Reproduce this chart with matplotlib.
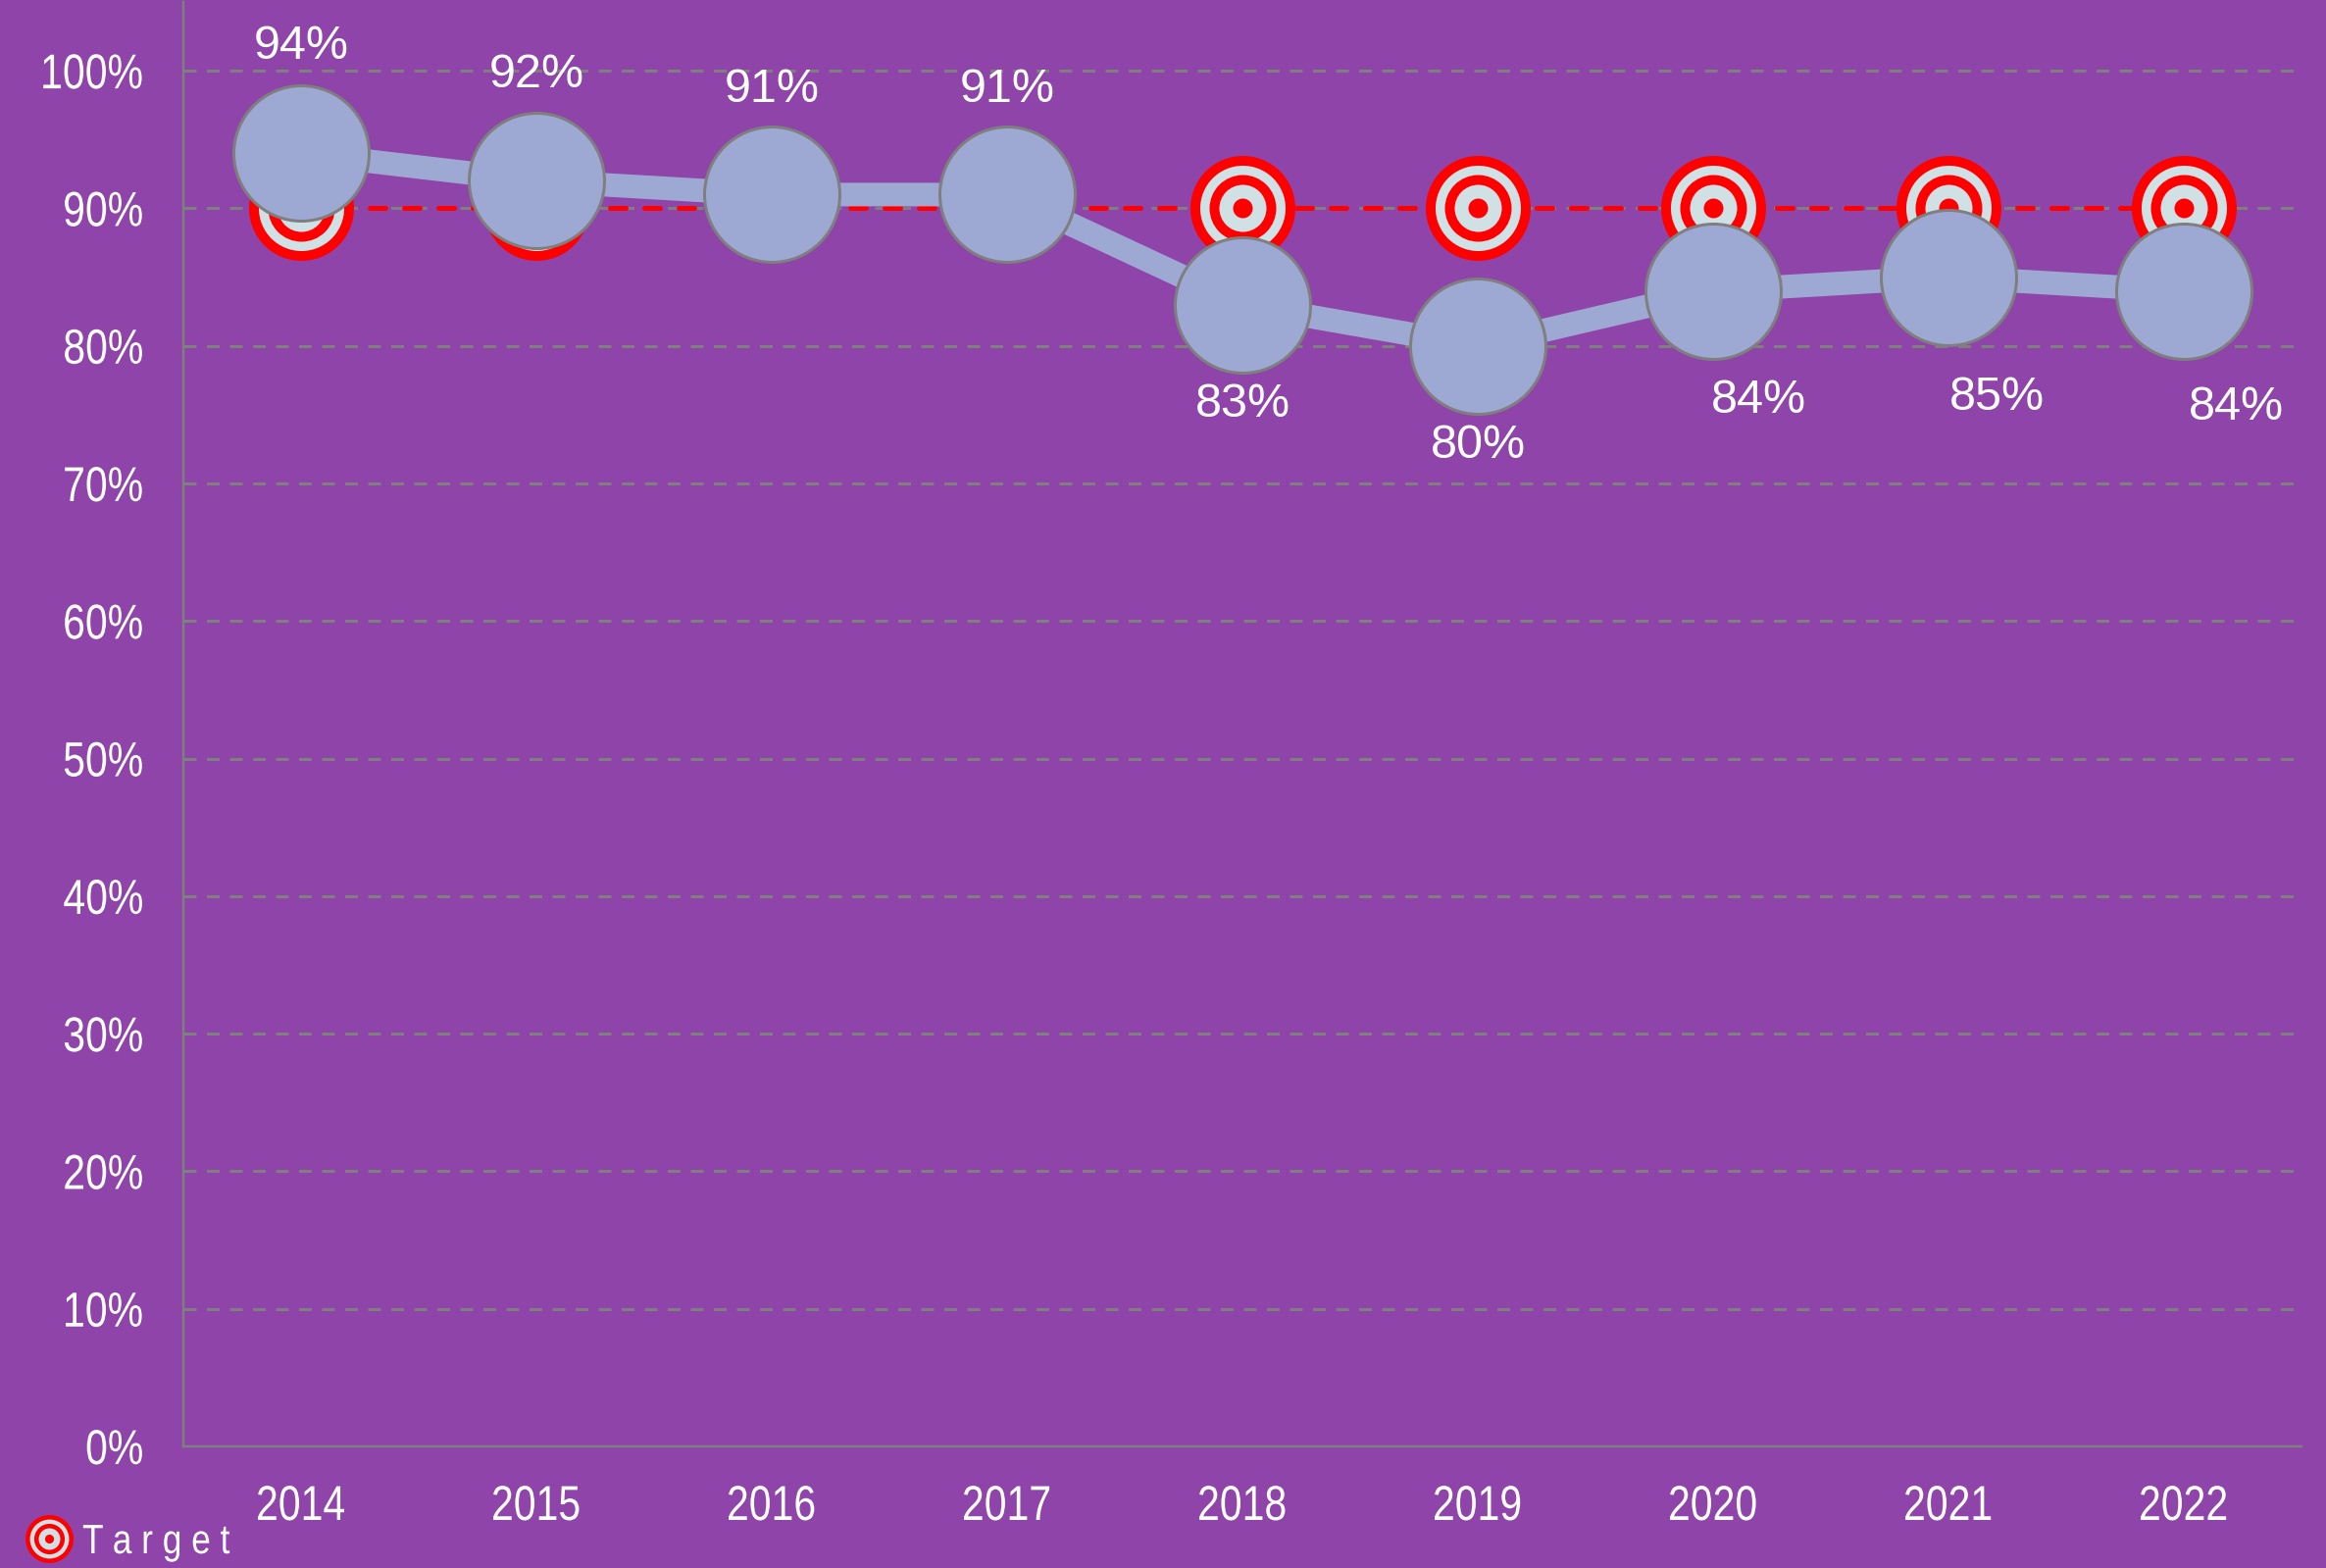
import matplotlib
matplotlib.use("Agg")
import matplotlib.pyplot as plt
from matplotlib.lines import Line2D
from matplotlib.legend_handler import HandlerTuple
from matplotlib.patheffects import AbstractPathEffect
from matplotlib.transforms import Affine2D

plt.rcParams['font.family'] = ['Liberation Sans']
plt.rcParams['lines.scale_dashes'] = False

years = ['2014', '2015', '2016', '2017', '2018', '2019', '2020', '2021', '2022']
actual = [94, 92, 91, 91, 83, 80, 84, 85, 84]
target = [90, 90, 90, 90, 90, 90, 90, 90, 90]
value_labels = ['94%', '92%', '91%', '91%', '83%', '80%', '84%', '85%', '84%']
y_ticks = [0, 10, 20, 30, 40, 50, 60, 70, 80, 90, 100]
y_tick_labels = ['0%', '10%', '20%', '30%', '40%', '50%', '60%', '70%', '80%', '90%', '100%']
legend_label = 'T a r g e t'

BG = '#8F44A9'
GREY = '#7F7F7F'
BLUE = '#9DA9D3'
RED = '#FF0000'
LIGHT = '#D0E1E6'
WHITE = '#FFFFFF'

W, H, DPI = 2372, 1599, 100
PX = 72 / DPI


class Condense(AbstractPathEffect):
    """Narrow a text horizontally; anchor 0=left, .5=centre, 1=right of the string."""
    def __init__(self, sx, anchor):
        super().__init__()
        self.sx, self.anchor = sx, anchor

    def draw_path(self, renderer, gc, tpath, affine, rgbFace=None):
        ext = tpath.get_extents(affine)
        shift = (1 - self.sx) * ext.width * self.anchor
        new = Affine2D().scale(self.sx, 1) + affine + Affine2D().translate(shift, 0)
        renderer.draw_path(gc, tpath, new, rgbFace)


fig = plt.figure(figsize=(W / DPI, H / DPI), dpi=DPI, facecolor=BG)
ax = fig.add_axes([187 / W, 1 - 1475 / H, (2347 - 187) / W, (1475 - 2) / H], facecolor=BG)
xs = list(range(len(years)))
ax.set_xlim(-0.5, len(years) - 0.5)
ax.set_ylim(0, 105)

for s in ['top', 'right']:
    ax.spines[s].set_visible(False)
for s in ['left', 'bottom']:
    ax.spines[s].set_color(GREY)
    ax.spines[s].set_linewidth(2.5 * PX)

ax.set_yticks(y_ticks)
ax.set_yticklabels(y_tick_labels, fontsize=50 * PX, color=WHITE)
ax.set_xticks(xs)
ax.set_xticklabels(years, fontsize=50 * PX, color=WHITE)
ax.tick_params(axis='y', length=0, pad=40 * PX)
ax.tick_params(axis='x', length=0, pad=39 * PX)
for t in ax.get_yticklabels():
    t.set_path_effects([Condense(0.82, 1)])
for t in ax.get_xticklabels():
    t.set_path_effects([Condense(0.82, 0.5)])
ax.grid(axis='y', color=GREY, linewidth=3 * PX, linestyle=(0, (13 * PX, 10.5 * PX)), zorder=1)
ax.set_axisbelow(True)

# Target line and bullseye markers
ax.plot(xs, target, color=RED, linewidth=5 * PX, linestyle=(0, (16 * PX, 19 * PX)),
        dash_capstyle='round', zorder=2)
rings = [(107, RED), (87, LIGHT), (68, RED), (48, LIGHT), (20, RED)]
for i, (d, c) in enumerate(rings):
    ax.plot(xs, target, linestyle='none', marker='o', markersize=d * PX,
            markerfacecolor=c, markeredgewidth=0, zorder=3 + i * 0.1, clip_on=False)

# Actual series
ax.plot(xs, actual, color=BLUE, linewidth=24 * PX, zorder=4, solid_capstyle='butt')
ax.plot(xs, actual, linestyle='none', marker='o', markersize=138 * PX,
        markerfacecolor=BLUE, markeredgecolor=GREY, markeredgewidth=3 * PX,
        zorder=5, clip_on=False)

offsets_px = [(0, 109), (0, 108), (0, 107), (0, 107), (0, -102), (0, -102), (46, -112), (49, -123), (53, -119)]
for x, v, t, (dx, dy) in zip(xs, actual, value_labels, offsets_px):
    ax.annotate(t, (x, v), xytext=(dx * PX, dy * PX), textcoords='offset points',
                ha='center', va='center', fontsize=48.5 * PX, color=WHITE, zorder=6)

# Legend
scale = 49 / 107
handle = tuple(Line2D([], [], linestyle='none', marker='o', markersize=d * scale * PX,
                      markerfacecolor=c, markeredgewidth=0) for d, c in rings)
leg = fig.legend([handle], [legend_label], handler_map={tuple: HandlerTuple(ndivide=1, pad=0)},
                 loc='center left', bbox_to_anchor=(16 / W, 1 - 1573 / H), frameon=False,
                 borderpad=0, borderaxespad=0, handlelength=1.6, handletextpad=0.02,
                 prop={'size': 42 * PX})
for t in leg.get_texts():
    t.set_color(WHITE)
    t.set_path_effects([Condense(0.84, 0)])

fig.savefig('out.png', dpi=DPI, facecolor=BG)
